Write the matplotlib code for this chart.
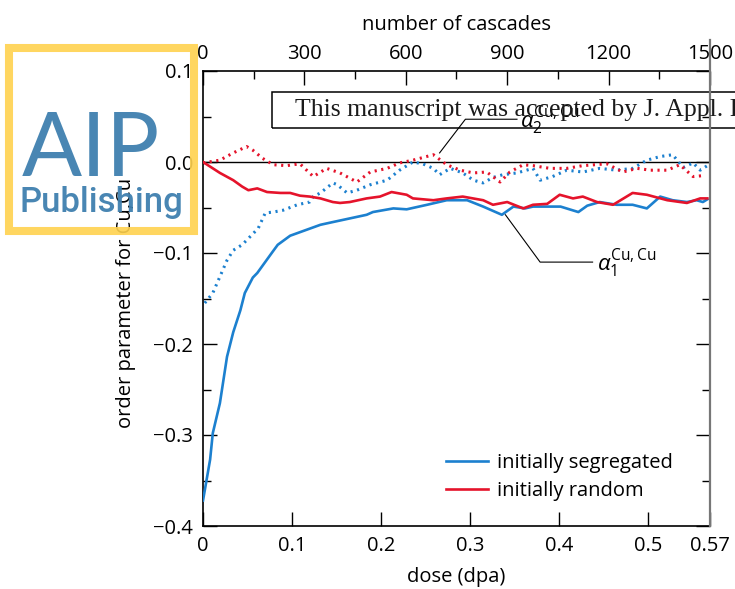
import matplotlib
matplotlib.use("Agg")
import matplotlib.pyplot as plt
from matplotlib.patches import Rectangle
from matplotlib.lines import Line2D
from matplotlib.ticker import MultipleLocator

plt.rcParams['font.family'] = ['Open Sans', 'DejaVu Sans']
plt.rcParams['mathtext.fontset'] = 'custom'
plt.rcParams['mathtext.it'] = 'Open Sans:italic'
plt.rcParams['mathtext.rm'] = 'Open Sans'

# ---- data ----
seg_a1_dose = [0.0, 0.008, 0.011, 0.019, 0.027, 0.034, 0.042, 0.047, 0.056, 0.061, 0.078, 0.084,
               0.098, 0.115, 0.132, 0.146, 0.165, 0.184, 0.191, 0.214, 0.229, 0.252, 0.274, 0.297,
               0.315, 0.336, 0.349, 0.362, 0.371, 0.402, 0.422, 0.432, 0.446, 0.465, 0.483, 0.499,
               0.514, 0.528, 0.544, 0.555, 0.562, 0.567]
seg_a1 = [-0.372, -0.327, -0.298, -0.265, -0.214, -0.187, -0.163, -0.144, -0.127, -0.122, -0.099, -0.091,
          -0.081, -0.075, -0.069, -0.066, -0.062, -0.058, -0.055, -0.051, -0.052, -0.047, -0.042, -0.042,
          -0.049, -0.058, -0.049, -0.051, -0.049, -0.049, -0.055, -0.048, -0.044, -0.047, -0.047, -0.051,
          -0.038, -0.042, -0.044, -0.042, -0.044, -0.041]

rnd_a1_dose = [0.0, 0.019, 0.034, 0.044, 0.051, 0.061, 0.072, 0.087, 0.098, 0.109, 0.120, 0.132,
               0.146, 0.154, 0.165, 0.184, 0.199, 0.212, 0.229, 0.236, 0.259, 0.274, 0.292, 0.315,
               0.326, 0.342, 0.360, 0.371, 0.387, 0.401, 0.416, 0.427, 0.443, 0.461, 0.483, 0.499,
               0.522, 0.544, 0.559, 0.567]
rnd_a1 = [0.0, -0.012, -0.020, -0.027, -0.031, -0.029, -0.033, -0.034, -0.034, -0.037, -0.038, -0.040,
          -0.044, -0.045, -0.044, -0.040, -0.038, -0.033, -0.036, -0.040, -0.042, -0.040, -0.038, -0.042,
          -0.047, -0.044, -0.051, -0.047, -0.046, -0.036, -0.040, -0.038, -0.044, -0.047, -0.034, -0.036,
          -0.042, -0.045, -0.040, -0.040]

seg_a2_dose = [0.002, 0.011, 0.019, 0.027, 0.034, 0.044, 0.051, 0.062, 0.070, 0.079, 0.090, 0.106,
               0.120, 0.124, 0.132, 0.146, 0.151, 0.162, 0.173, 0.188, 0.207, 0.221, 0.236, 0.247,
               0.259, 0.266, 0.278, 0.292, 0.304, 0.315, 0.326, 0.337, 0.353, 0.371, 0.379, 0.393,
               0.409, 0.427, 0.446, 0.465, 0.483, 0.499, 0.514, 0.528, 0.540, 0.551, 0.559, 0.567]
seg_a2 = [-0.155, -0.144, -0.126, -0.108, -0.097, -0.091, -0.084, -0.073, -0.056, -0.055, -0.053, -0.047,
          -0.044, -0.038, -0.034, -0.023, -0.025, -0.034, -0.031, -0.025, -0.020, -0.009, 0.000, -0.002,
          -0.007, -0.014, -0.007, -0.012, -0.020, -0.023, -0.017, -0.014, -0.012, -0.007, -0.020, -0.016,
          -0.009, -0.011, -0.007, -0.009, -0.007, 0.002, 0.006, 0.008, -0.006, -0.001, -0.009, -0.004]

rnd_a2_dose = [0.0, 0.019, 0.034, 0.049, 0.056, 0.067, 0.079, 0.094, 0.109, 0.124, 0.139, 0.154,
               0.173, 0.188, 0.207, 0.221, 0.236, 0.259, 0.274, 0.289, 0.304, 0.319, 0.334, 0.345,
               0.360, 0.371, 0.390, 0.409, 0.427, 0.454, 0.472, 0.488, 0.503, 0.522, 0.536, 0.551,
               0.562]
rnd_a2 = [-0.001, 0.002, 0.010, 0.017, 0.013, 0.004, -0.003, -0.004, -0.002, -0.016, -0.007, -0.012,
          -0.022, -0.011, -0.007, -0.001, 0.002, 0.008, -0.003, -0.009, -0.012, -0.011, -0.022, -0.011,
          -0.003, -0.004, -0.007, -0.007, -0.004, -0.002, -0.011, -0.007, -0.009, -0.009, -0.003, -0.016,
          -0.015]

x_ticks = [0, 0.1, 0.2, 0.3, 0.4, 0.5, 0.57]
x_ticklabels = ['0', '0.1', '0.2', '0.3', '0.4', '0.5', '0.57']
y_ticks = [-0.4, -0.3, -0.2, -0.1, 0.0, 0.1]
y_ticklabels = ['\u22120.4', '\u22120.3', '\u22120.2', '\u22120.1', '0.0', '0.1']
top_ticks = [0, 300, 600, 900, 1200, 1500]
top_ticklabels = ['0', '300', '600', '900', '1200', '1500']
legend_labels = ['initially segregated', 'initially random']

BLUE = '#1C80CF'
RED = '#E5132B'
FS = 14.5

W, H = 735, 589
fig = plt.figure(figsize=(W / 100, H / 100), dpi=100)
ax = fig.add_axes([203 / W, 1 - 526 / H, 507 / W, 455 / H])

ax.axhline(0, color='black', lw=1.0, zorder=1)
dot = (0, (0.7, 1.5))
ax.plot(seg_a2_dose, seg_a2, color=BLUE, lw=2.2, ls=dot, zorder=2)
ax.plot(rnd_a2_dose, rnd_a2, color=RED, lw=2.2, ls=dot, zorder=2)
l1, = ax.plot(seg_a1_dose, seg_a1, color=BLUE, lw=1.9, zorder=3)
l2, = ax.plot(rnd_a1_dose, rnd_a1, color=RED, lw=1.9, zorder=3)

ax.set_xlim(0, 0.57)
ax.set_ylim(-0.4, 0.1)
ax.set_xticks(x_ticks)
ax.set_xticklabels(x_ticklabels)
ax.set_yticks(y_ticks)
ax.set_yticklabels(y_ticklabels)
ax.yaxis.set_minor_locator(MultipleLocator(0.05))
ax.tick_params(which='both', direction='in', labelsize=FS, top=False, right=True)
ax.tick_params(which='major', length=10, width=1)
ax.tick_params(which='minor', length=6, width=1)
ax.tick_params(axis='x', which='major', pad=7)
ax.tick_params(axis='y', which='major', pad=7)
for s in ['left', 'bottom', 'top']:
    ax.spines[s].set_linewidth(1.2)
ax.spines['right'].set_visible(False)

ax.set_xlabel('dose (dpa)', fontsize=FS, labelpad=8)
ax.set_ylabel('order parameter for Cu,Cu', fontsize=FS)
ax.yaxis.set_label_coords(-0.132, 0.49)

ax2 = ax.twiny()
ax2.set_xlim(0, 1500)
ax2.set_xticks(top_ticks)
ax2.set_xticklabels(top_ticklabels)
ax2.xaxis.set_minor_locator(MultipleLocator(150))
ax2.tick_params(which='both', direction='in', labelsize=FS, pad=5)
ax2.tick_params(which='major', length=10, width=1)
ax2.tick_params(which='minor', length=6, width=1)
ax2.set_xlabel('number of cascades', fontsize=FS, labelpad=10)
for s in ax2.spines.values():
    s.set_visible(False)

# gray right edge line
fig.add_artist(Line2D([710 / W, 710 / W], [1 - 526 / H, 1 - 40 / H], color='#777777', lw=1.6))

# annotations
ax.plot([0.340, 0.379, 0.438], [-0.058, -0.110, -0.110], color='black', lw=0.8, zorder=4)
ax.text(0.443, -0.110, r'$\alpha_1^{\mathrm{Cu,Cu}}$', fontsize=16, va='center', ha='left')
ax.plot([0.266, 0.295, 0.353], [0.010, 0.047, 0.047], color='black', lw=0.8, zorder=4, clip_on=False)
ax.text(0.356, 0.047, r'$\alpha_2^{\mathrm{Cu,Cu}}$', fontsize=16, va='center', ha='left')

leg = ax.legend([l1, l2], legend_labels, loc='center left', bbox_to_anchor=(0.479, 0.108),
                frameon=False, fontsize=FS, handlelength=2.1, handletextpad=0.45,
                labelspacing=0.38, borderpad=0, borderaxespad=0)

# manuscript banner
fig.add_artist(Rectangle((272 / W, 1 - 128 / H), 520 / W, 36 / H, fill=False,
                         edgecolor='black', lw=1.1))
fig.text(295 / W, 1 - 110 / H,
         'This manuscript was accepted by J. Appl. Phys. Click here to see the version of record.',
         family='Liberation Serif', fontsize=18.5, color='#1a1a1a', va='center', ha='left')

# AIP Publishing logo
LOGO = '#3F80AF'
fig.add_artist(Rectangle((9 / W, 1 - 231 / H), 185 / W, 183.5 / H, fill=False,
                         edgecolor='#FFD24F', lw=5.8, alpha=0.9))
fig.text(22 / W, 1 - 176 / H, 'AIP', family='Lato', fontsize=64, color=LOGO,
         va='baseline', ha='left', alpha=0.95)
fig.text(20 / W, 1 - 212 / H, 'Publishing', family='Roboto', weight='medium',
         fontsize=25, color=LOGO, va='baseline', ha='left', alpha=0.95)

fig.savefig('out.png', dpi=100)
